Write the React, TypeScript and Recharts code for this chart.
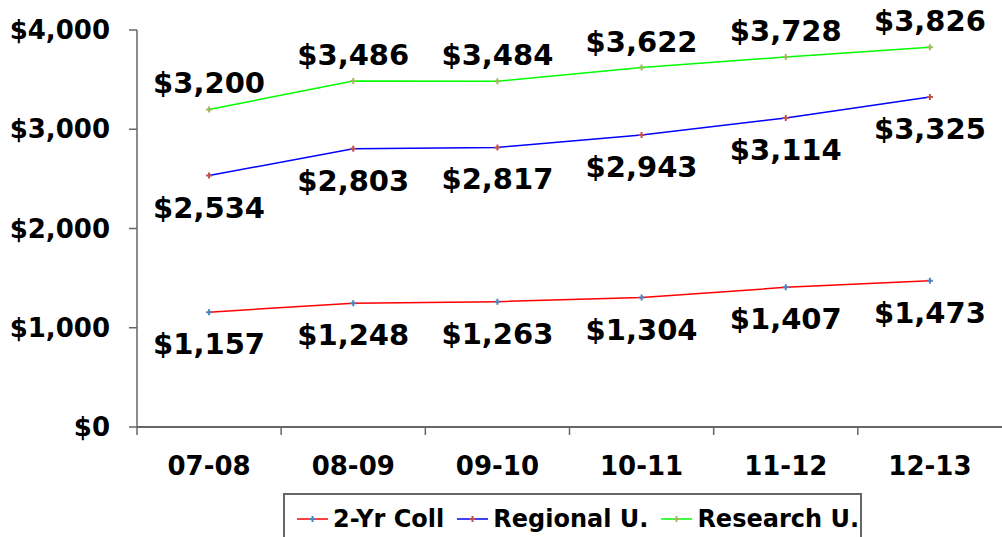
import { LineChart, Line, XAxis, YAxis, LabelList } from 'recharts'

const categories = ['07-08', '08-09', '09-10', '10-11', '11-12', '12-13']
const twoYrColl = [1157, 1248, 1263, 1304, 1407, 1473]
const regionalU = [2534, 2803, 2817, 2943, 3114, 3325]
const researchU = [3200, 3486, 3484, 3622, 3728, 3826]
const yTicks = [0, 1000, 2000, 3000, 4000]

const FONT = '"DejaVu Sans", Verdana, sans-serif'
const AXIS = '#666666'
const STEP = (1002 - 137) / categories.length

const series = [
  { key: 'twoYr', name: '2-Yr Coll', stroke: '#ff0000', marker: '#4f81bd', above: false },
  { key: 'regional', name: 'Regional U.', stroke: '#0000ff', marker: '#c0504d', above: false },
  { key: 'research', name: 'Research U.', stroke: '#00ff00', marker: '#9bbb59', above: true },
]

const data = categories.map((cat, i) => ({
  cat,
  twoYr: twoYrColl[i],
  regional: regionalU[i],
  research: researchU[i],
}))

const money = (v: number) => '$' + v.toLocaleString('en-US')

function PlusDot(color: string) {
  return (props: any) => {
    const { cx, cy, index } = props
    if (cx == null || cy == null) return <g key={index} />
    return (
      <path
        key={index}
        d={`M${cx - 3},${cy}H${cx + 3}M${cx},${cy - 3}V${cy + 3}`}
        stroke={color}
        strokeWidth={2}
      />
    )
  }
}

function valueLabel(above: boolean) {
  return (props: any) => {
    const { x, y, value, index } = props
    return (
      <text
        key={index}
        x={x}
        y={above ? y - 16 : y + 42}
        textAnchor="middle"
        fontFamily={FONT}
        fontWeight="bold"
        fontSize={29}
        fill="#000"
      >
        {money(value)}
      </text>
    )
  }
}

const XTick = (props: any) => {
  const { x, y, payload } = props
  return (
    <g>
      <line x1={x - STEP / 2} x2={x - STEP / 2} y1={y - 30} y2={y - 22} stroke={AXIS} strokeWidth={1.5} />
      <text x={x} y={y} dy="0.71em" textAnchor="middle" fontFamily={FONT} fontWeight="bold" fontSize={26} fill="#000">
        {payload.value}
      </text>
    </g>
  )
}

export default function App() {
  return (
    <div style={{ position: 'absolute', left: 0, top: 0, width: 1002, height: 537, overflow: 'hidden', background: '#fff' }}>
      <LineChart width={1002} height={537} data={data} margin={{ top: 30, right: 0, left: 0, bottom: 0 }}>
        <XAxis
          dataKey="cat"
          scale="band"
          height={110}
          tickLine={false}
          tickSize={8}
          tickMargin={22}
          axisLine={{ stroke: AXIS, strokeWidth: 2 }}
          tick={<XTick />}
          interval={0}
        />
        <YAxis
          width={137}
          domain={[0, 4000]}
          ticks={yTicks}
          tickFormatter={money}
          tickSize={8}
          tickMargin={19}
          axisLine={{ stroke: AXIS, strokeWidth: 1.5 }}
          tickLine={{ stroke: AXIS, strokeWidth: 1.5 }}
          tick={{ fontFamily: FONT, fontWeight: 'bold', fontSize: 26, fill: '#000' }}
        />
        {series.map((s) => (
          <Line
            key={s.key}
            dataKey={s.key}
            name={s.name}
            stroke={s.stroke}
            strokeWidth={1.5}
            dot={PlusDot(s.marker)}
            activeDot={false}
            isAnimationActive={false}
          >
            <LabelList dataKey={s.key} content={valueLabel(s.above)} />
          </Line>
        ))}
      </LineChart>
      <div
        style={{
          position: 'absolute',
          left: 283,
          top: 493,
          width: 579,
          height: 60,
          border: `2px solid ${AXIS}`,
          display: 'flex',
          alignItems: 'flex-start',
          paddingLeft: 12,
          paddingTop: 10,
          boxSizing: 'border-box',
          fontFamily: FONT,
          fontWeight: 'bold',
          fontSize: 24,
          color: '#000',
          background: '#fff',
          whiteSpace: 'nowrap',
        }}
      >
        {series.map((s) => (
          <div key={s.key} style={{ display: 'flex', alignItems: 'center', marginRight: 13, lineHeight: '28px', flexShrink: 0 }}>
            <svg width={31} height={10} style={{ marginRight: 5, flexShrink: 0 }}>
              <line x1={0} x2={31} y1={5} y2={5} stroke={s.stroke} strokeWidth={1.5} />
              <path d="M12.5,5H18.5M15.5,2V8" stroke={s.marker} strokeWidth={2} />
            </svg>
            <span>{s.name}</span>
          </div>
        ))}
      </div>
    </div>
  )
}
